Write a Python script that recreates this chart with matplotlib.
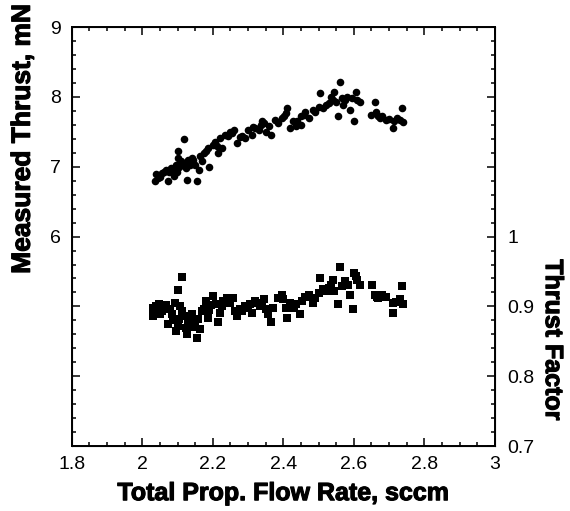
import matplotlib
matplotlib.use('Agg')
import matplotlib.pyplot as plt
import matplotlib.patheffects as pe
from matplotlib.ticker import MultipleLocator, FixedLocator, FuncFormatter

plt.rcParams['font.family'] = ['Liberation Sans', 'DejaVu Sans']

# measured thrust (mN) vs total propellant flow rate (sccm)
flow_thrust = [2.037, 2.040, 2.057, 2.072, 2.067, 2.080, 2.090, 2.095, 2.100, 2.110,
               2.117, 2.100, 2.125, 2.130, 2.140, 2.126, 2.155, 2.150, 2.160, 2.170,
               2.175, 2.190, 2.185, 2.200, 2.216, 2.226, 2.220, 2.235, 2.250, 2.260,
               2.270, 2.283, 2.290, 2.310, 2.320, 2.330, 2.340, 2.350, 2.366, 2.360,
               2.376, 2.396, 2.407, 2.410, 2.418, 2.427, 2.436, 2.450, 2.450, 2.463,
               2.473, 2.484, 2.500, 2.504, 2.520, 2.530, 2.535, 2.545, 2.550, 2.556,
               2.560, 2.566, 2.570, 2.580, 2.590, 2.607, 2.610, 2.600, 2.617, 2.660,
               2.650, 2.664, 2.674, 2.690, 2.710, 2.715, 2.730, 2.736, 2.740,
               2.050, 2.062, 2.085, 2.105, 2.120, 2.135, 2.145, 2.165, 2.180, 2.205,
               2.212, 2.244, 2.255, 2.276, 2.300, 2.315, 2.338, 2.345, 2.386, 2.402,
               2.440, 2.458, 2.490, 2.512, 2.540, 2.575, 2.595, 2.668, 2.680, 2.700,
               2.722, 2.045, 2.075, 2.098, 2.115]
thrust = [6.79, 6.89, 6.91, 6.79, 6.96, 6.98, 6.87, 7.03, 7.13, 7.08,
          7.40, 7.22, 6.98, 7.09, 7.13, 6.81, 6.79, 7.03, 6.96, 7.08,
          7.20, 7.00, 7.27, 7.31, 7.20, 7.27, 7.41, 7.46, 7.50, 7.53,
          7.34, 7.44, 7.41, 7.46, 7.55, 7.53, 7.65, 7.50, 7.46, 7.58,
          7.67, 7.70, 7.77, 7.84, 7.55, 7.65, 7.58, 7.72, 7.60, 7.79,
          7.70, 7.81, 7.86, 8.05, 7.88, 7.91, 8.00, 8.07, 7.93, 7.72,
          8.22, 7.98, 7.88, 8.00, 7.81, 8.07, 7.95, 7.65, 7.93, 7.93,
          7.74, 7.79, 7.70, 7.67, 7.55, 7.65, 7.67, 7.84, 7.64,
          6.86, 6.93, 6.95, 7.00, 7.05, 7.02, 7.10, 7.15, 7.22, 7.36,
          7.30, 7.44, 7.48, 7.42, 7.52, 7.57, 7.60, 7.62, 7.63, 7.72,
          7.66, 7.74, 7.78, 7.84, 7.96, 7.95, 7.98, 7.73, 7.72, 7.68,
          7.70, 6.84, 6.93, 6.92, 7.04]

# thrust factor vs total propellant flow rate (sccm)
flow_factor = [2.031, 2.029, 2.040, 2.057, 2.067, 2.072, 2.083, 2.093, 2.100, 2.114,
               2.095, 2.105, 2.114, 2.126, 2.130, 2.140, 2.146, 2.155, 2.158, 2.165,
               2.170, 2.180, 2.185, 2.195, 2.200, 2.216, 2.220, 2.230, 2.240, 2.257,
               2.270, 2.283, 2.300, 2.310, 2.320, 2.335, 2.345, 2.356, 2.366, 2.370,
               2.396, 2.407, 2.410, 2.420, 2.430, 2.447, 2.453, 2.473, 2.484, 2.500,
               2.503, 2.520, 2.530, 2.540, 2.545, 2.555, 2.561, 2.566, 2.576, 2.590,
               2.600, 2.610, 2.597, 2.617, 2.653, 2.660, 2.670, 2.680, 2.710, 2.712,
               2.730, 2.736, 2.740,
               2.048, 2.062, 2.078, 2.088, 2.108, 2.120, 2.136, 2.150, 2.175, 2.190,
               2.208, 2.226, 2.248, 2.262, 2.276, 2.292, 2.305, 2.326, 2.340, 2.352,
               2.386, 2.400, 2.437, 2.462, 2.490, 2.512, 2.535, 2.585, 2.605, 2.665,
               2.690, 2.720, 2.050, 2.100, 2.125, 2.145]
factor = [0.898, 0.886, 0.900, 0.893, 0.902, 0.875, 0.889, 0.905, 0.924, 0.942,
          0.865, 0.882, 0.893, 0.860, 0.879, 0.889, 0.872, 0.855, 0.882, 0.867,
          0.893, 0.908, 0.884, 0.902, 0.915, 0.877, 0.891, 0.908, 0.912, 0.912,
          0.886, 0.893, 0.898, 0.891, 0.908, 0.900, 0.910, 0.889, 0.877, 0.898,
          0.917, 0.898, 0.884, 0.905, 0.898, 0.889, 0.908, 0.917, 0.905, 0.919,
          0.941, 0.922, 0.927, 0.938, 0.922, 0.903, 0.956, 0.929, 0.936, 0.917,
          0.948, 0.938, 0.896, 0.931, 0.931, 0.917, 0.912, 0.917, 0.905, 0.891,
          0.910, 0.929, 0.903,
          0.904, 0.896, 0.897, 0.880, 0.900, 0.886, 0.878, 0.870, 0.896, 0.895,
          0.903, 0.900, 0.905, 0.894, 0.897, 0.900, 0.903, 0.905, 0.900, 0.896,
          0.912, 0.910, 0.904, 0.913, 0.912, 0.925, 0.930, 0.930, 0.943, 0.914,
          0.913, 0.906, 0.889, 0.872, 0.869, 0.880]

fig = plt.figure(figsize=(5.7, 5.11), dpi=100)
ax = fig.add_axes([0.126, 0.127, 0.742, 0.820])

ax.scatter(flow_thrust, thrust, s=30, marker='o', color='black', linewidths=0)
ax.set_xlim(1.8, 3.0)
ax.set_ylim(3, 9)

ax.xaxis.set_major_locator(MultipleLocator(0.2))
ax.xaxis.set_minor_locator(MultipleLocator(0.05))
ax.xaxis.set_major_formatter(FuncFormatter(lambda v, p: f'{v:g}'))
ax.yaxis.set_major_locator(MultipleLocator(1))
ax.yaxis.set_minor_locator(MultipleLocator(0.2))
ax.yaxis.set_major_formatter(FuncFormatter(lambda v, p: f'{v:g}' if v >= 6 else ''))
ax.tick_params(which='both', direction='in', top=True, right=False,
               labelsize=14, width=1.1)
ax.tick_params(which='major', length=6, pad=8)
ax.tick_params(which='minor', length=3)
ax.tick_params(axis='x', pad=7)
for sp in ax.spines.values():
    sp.set_linewidth(1.4)

ax2 = ax.twinx()
ax2.scatter(flow_factor, factor, s=26, marker='s', color='black', linewidths=0)
ax2.set_ylim(0.7, 1.3)
ax2.yaxis.set_major_locator(FixedLocator([0.7, 0.8, 0.9, 1.0, 1.1, 1.2]))
ax2.yaxis.set_minor_locator(MultipleLocator(0.02))
ax2.yaxis.set_major_formatter(FuncFormatter(lambda v, p: f'{v:g}' if v <= 1.001 else ''))
ax2.tick_params(which='both', direction='in', labelsize=14, width=1.1)
ax2.tick_params(which='major', length=6, pad=9)
ax2.tick_params(which='minor', length=3)

# heavier look for the axis titles
heavy = [pe.withStroke(linewidth=0.8, foreground='black')]
ax.set_xlabel('Total Prop. Flow Rate, sccm', fontsize=18, fontweight='bold',
              labelpad=6, path_effects=heavy)
fig.text(0.04, 0.728, 'Measured Thrust, mN', rotation=90, fontsize=19,
         fontweight='bold', ha='center', va='center', path_effects=heavy)
fig.text(0.97, 0.335, 'Thrust Factor', rotation=-90, fontsize=18,
         fontweight='bold', ha='center', va='center', path_effects=heavy)

fig.savefig('out.png', dpi=100)
